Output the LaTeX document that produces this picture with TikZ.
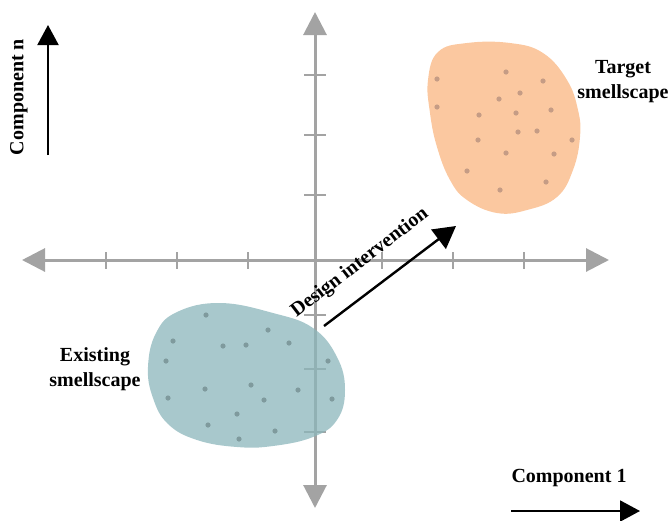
\documentclass[tikz,border=0pt]{standalone}
\usepackage{fontspec}
\setmainfont{Liberation Serif}
\usetikzlibrary{arrows.meta}
\definecolor{axisgray}{HTML}{A3A3A3}
\definecolor{blobblue}{HTML}{8BB6BB}
\definecolor{bloborange}{HTML}{FBC8A0}
\definecolor{dotblue}{HTML}{7F9A9D}
\definecolor{dotorange}{HTML}{C59C85}
\begin{document}
\begin{tikzpicture}[
                    x=1pt, y=-1pt,
                    every node/.style={font=\bfseries\fontsize{20}{25}\selectfont, align=center},
                    axis/.style={axisgray, line width=3pt, {Triangle[length=23pt, width=23pt]}-{Triangle[length=23pt, width=23pt]}},
                    tick/.style={axisgray, line width=1.2pt},
                    bigarrow/.style={black, line width=2.4pt, -{Triangle[length=22pt, width=24pt]}},
                    keyarrow/.style={black, line width=2pt, -{Triangle[length=20pt, width=21pt]}}
                ]
                \useasboundingbox (0,0) rectangle (671,520);

                % axes
                \coordinate (o) at (315,260);
                \coordinate (xleft) at (22,260);
                \coordinate (xright) at (609,260);
                \coordinate (ytop) at (315,12);
                \coordinate (ybottom) at (315,508);
                \draw[axis] (xleft) -- (xright);
                \draw[axis] (ybottom) -- (ytop);
                \foreach \tx in {106,177,248,382,453,524}
                    \draw[tick] (\tx,252) -- (\tx,269);
                \foreach \ty in {75,135,195,315,369,432}
                    \draw[tick] (304,\ty) -- (326,\ty);

                % target smellscape
                \fill[bloborange] plot[smooth cycle, tension=0.7] coordinates {
                    (438,52) (467,43) (510,43) (543,53) (567,80) (578,110) (580,137)
                    (573,170) (557,197) (527,210) (497,213) (467,200) (450,180)
                    (437,147) (430,113) (428,80)};
                \foreach \dx/\dy in {437/79, 506/72, 543/81, 520/93, 499/99, 437/107,
                                     479/115, 516/113, 551/110, 518/132, 537/131, 478/140,
                                     572/140, 506/153, 554/154, 467/171, 546/182, 500/190}
                    \fill[dotorange] (\dx,\dy) circle (2.6pt);

                % existing smellscape
                \fill[blobblue, fill opacity=0.75] plot[smooth cycle, tension=0.7] coordinates {
                    (220,303) (273,313) (313,328) (337,357) (345,390) (337,420)
                    (313,437) (273,446) (237,447) (197,440) (168,424) (153,398)
                    (148,367) (156,333) (177,312)};
                \foreach \dx/\dy in {206/315, 173/341, 268/330, 223/346, 246/345, 289/343,
                                     166/361, 328/361, 205/389, 251/385, 298/390, 168/398,
                                     264/400, 332/399, 237/414, 208/425, 275/431, 239/439}
                    \fill[dotblue] (\dx,\dy) circle (2.6pt);

                % labels
                \node (target) at (623,82) {Target\\smellscape};
                \node (existing) at (95,369) {Existing\\smellscape};

                % design intervention
                \coordinate (di-start) at (324,326);
                \coordinate (di-end) at (456,226);
                \draw[bigarrow] (di-start) -- (di-end);
                \node[rotate=37.5] (dilabel) at (360,263) {Design intervention};

                % component keys
                \node[rotate=90] (compn) at (19,97) {Component n};
                \coordinate (cn-start) at (48,155);
                \coordinate (cn-end) at (48,25);
                \draw[keyarrow] (cn-start) -- (cn-end);
                \node (comp1) at (569,478) {Component 1};
                \coordinate (c1-start) at (511,511);
                \coordinate (c1-end) at (640,511);
                \draw[keyarrow] (c1-start) -- (c1-end);
            \end{tikzpicture}
\end{document}
